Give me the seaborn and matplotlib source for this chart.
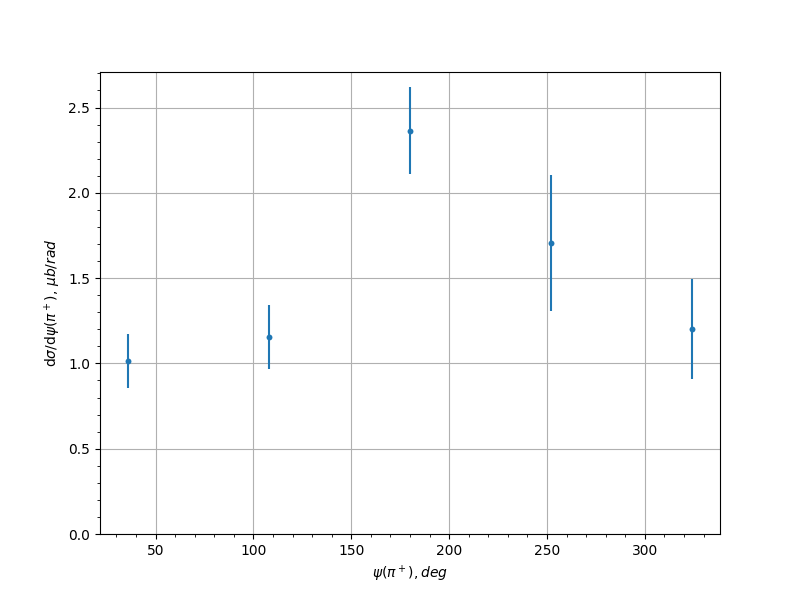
import matplotlib
matplotlib.use("Agg")
import matplotlib.pyplot as plt
import seaborn as sns
import pandas as pd
from matplotlib.ticker import AutoMinorLocator

psi_deg = [36, 108, 180, 252, 324]
dsigma = [1.013, 1.153, 2.365, 1.705, 1.200]
err = [0.158, 0.188, 0.255, 0.400, 0.293]

df = pd.DataFrame({"psi": psi_deg, "val": dsigma, "err": err})

fig, ax = plt.subplots(figsize=(8, 6), dpi=100)
ax.errorbar(df["psi"], df["val"], yerr=df["err"], fmt="none", ecolor="#1f77b4", elinewidth=1.5, zorder=3)
sns.scatterplot(data=df, x="psi", y="val", ax=ax, color="#1f77b4", s=18, linewidth=0, zorder=4)

ax.set_ylim(bottom=0)
ax.grid(True, which="major", color="#b0b0b0", linewidth=0.8)
ax.set_axisbelow(True)
ax.xaxis.set_minor_locator(AutoMinorLocator(5))
ax.yaxis.set_minor_locator(AutoMinorLocator(5))
ax.set_xlabel(r"$\psi(\pi^+), deg$")
ax.set_ylabel(r"d$\sigma$/d$\psi(\pi^+)$, $\mu b/rad$")

fig.savefig("out.png", dpi=100)
